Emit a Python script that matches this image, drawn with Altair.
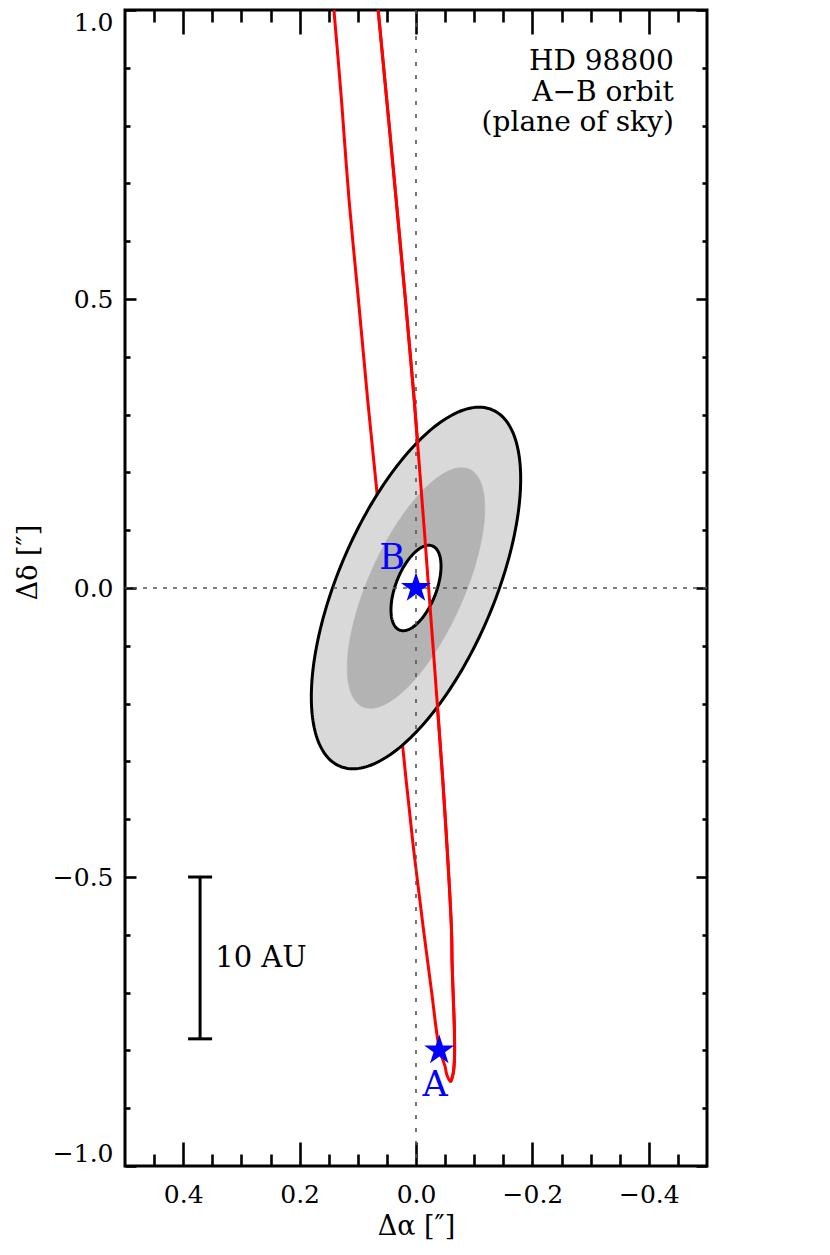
import altair as alt
import numpy as np
import pandas as pd

# ---------------- axis ticks ----------------
x_domain = [-0.5, 0.5]
y_domain = [-1.0, 1.0]
x_major = [0.4, 0.2, 0.0, -0.2, -0.4]
x_minor = [0.45, 0.35, 0.3, 0.25, 0.15, 0.1, 0.05, -0.05, -0.1, -0.15,
           -0.25, -0.3, -0.35, -0.45]
y_major = [1.0, 0.5, 0.0, -0.5, -1.0]
y_minor = [0.9, 0.8, 0.7, 0.6, 0.4, 0.3, 0.2, 0.1, -0.1, -0.2, -0.3, -0.4,
           -0.6, -0.7, -0.8, -0.9]

# ---------------- A-B orbit ----------------
orbit_dra = [0.141, 0.128, 0.115, 0.099, 0.083, 0.050, 0.017, 0.002, -0.013,
             -0.027, -0.040, -0.050, -0.053, -0.0596, -0.064, -0.066, -0.066,
             -0.064, -0.062, -0.061, -0.046, -0.022, 0.003, 0.034, 0.065]
orbit_ddec = [1.000, 0.844, 0.671, 0.500, 0.325, -0.004, -0.332, -0.470,
              -0.592, -0.700, -0.796, -0.828, -0.842, -0.854, -0.839, -0.817,
              -0.765, -0.707, -0.649, -0.592, -0.332, -0.004, 0.325, 0.671,
              1.000]
orbit_side = ["back"] * 13 + ["front"] * 12

# ---------------- confidence ellipses around B ----------------
ell_name = ["outer", "middle", "inner"]
ell_a = [0.335, 0.225, 0.078]      # semi-major axis ["]
ell_b = [0.134, 0.082, 0.035]      # semi-minor axis ["]
ell_tilt = [23.0, 24.0, 21.0]      # degrees from north toward west
ell_fill = ["#d9d9d9", "#b3b3b3", "#ffffff"]
ell_border = [3.0, 0.0, 3.0]

# ---------------- stars and labels ----------------
star_name = ["B", "A"]
star_dra = [0.0, -0.040]
star_ddec = [0.0, -0.800]
label_dra = [0.041, -0.033]
label_ddec = [0.052, -0.860]

# ---------------- scale bar ----------------
bar_dra = [0.371]
bar_top = [-0.50]
bar_bottom = [-0.78]
bar_text = ["10 AU"]
bar_text_dra = [0.345]
bar_text_ddec = [-0.64]

# ---------------- title block ----------------
title_lines = ["HD 98800", "A\u2212B orbit", "(plane of sky)"]
title_dra = [-0.443, -0.443, -0.443]
title_ddec = [0.896, 0.843, 0.790]

FONT = "DejaVu Serif"
STAR = ("M0,-1L0.2245,-0.309L0.9511,-0.309L0.3633,0.118L0.5878,0.809L0,0.382"
        "L-0.5878,0.809L-0.3633,0.118L-0.9511,-0.309L-0.2245,-0.309Z")
xs = alt.Scale(domain=x_domain, reverse=True, nice=False, zero=False)
ys = alt.Scale(domain=y_domain, nice=False, zero=False)


def X(field="x"):
    return alt.X(f"{field}:Q", scale=xs, axis=None)


def Y(field="y"):
    return alt.Y(f"{field}:Q", scale=ys, axis=None)


# data frames
orbit_df = pd.DataFrame({"x": orbit_dra, "y": orbit_ddec, "side": orbit_side,
                         "i": list(range(len(orbit_dra)))})

t = np.linspace(0.0, 2.0 * np.pi, 241)
ell_frames = []
for k, name in enumerate(ell_name):
    th = np.radians(ell_tilt[k])
    ex = star_dra[0] + ell_a[k] * np.cos(t) * (-np.sin(th)) + ell_b[k] * np.sin(t) * np.cos(th)
    ey = star_ddec[0] + ell_a[k] * np.cos(t) * np.cos(th) + ell_b[k] * np.sin(t) * np.sin(th)
    ell_frames.append(pd.DataFrame({"x": ex, "y": ey, "i": np.arange(len(t)), "name": name}))

stars_df = pd.DataFrame({"x": star_dra, "y": star_ddec, "name": star_name})
labels_df = pd.DataFrame({"x": label_dra, "y": label_ddec, "name": star_name})
bar_df = pd.DataFrame({"x": bar_dra, "y": bar_top, "y2": bar_bottom})
bar_caps_df = pd.DataFrame({"x": bar_dra * 2, "y": bar_top + bar_bottom})
bar_text_df = pd.DataFrame({"x": bar_text_dra, "y": bar_text_ddec, "t": bar_text})
title_df = pd.DataFrame({"x": title_dra, "y": title_ddec, "t": title_lines})
zero_df = pd.DataFrame({"x": [0.0], "y": [0.0]})

layers = []

# orbit drawn first (left branch goes behind the ellipses)
layers.append(
    alt.Chart(orbit_df).mark_line(color="#ff0000", strokeWidth=3,
                                  interpolate="catmull-rom", clip=True)
    .encode(x=X(), y=Y(), order="i:Q")
)

for k, fr in enumerate(ell_frames):
    props = dict(fill=ell_fill[k], interpolate="linear")
    if ell_border[k] > 0:
        props.update(stroke="black", strokeWidth=ell_border[k])
    else:
        props.update(stroke=ell_fill[k], strokeWidth=0.5)
    layers.append(alt.Chart(fr).mark_line(**props).encode(x=X(), y=Y(), order="i:Q"))

# dotted zero lines
layers.append(
    alt.Chart(zero_df).mark_rule(color="#555555", strokeWidth=1.6, strokeDash=[4, 9])
    .encode(x=X())
)
layers.append(
    alt.Chart(zero_df).mark_rule(color="#555555", strokeWidth=1.6, strokeDash=[4, 6])
    .encode(y=Y())
)

# front part of the orbit (over the ellipses)
layers.append(
    alt.Chart(orbit_df).transform_filter(alt.datum.side == "front")
    .mark_line(color="#ff0000", strokeWidth=3, interpolate="catmull-rom", clip=True)
    .encode(x=X(), y=Y(), order="i:Q")
)

# stars
layers.append(
    alt.Chart(stars_df).mark_point(shape=STAR, filled=True, color="#0000ff",
                                   size=1000, opacity=1, strokeWidth=0)
    .encode(x=X(), y=Y())
)
layers.append(
    alt.Chart(labels_df).mark_text(color="#0000ff", fontSize=35, font=FONT,
                                   baseline="middle", align="center")
    .encode(x=X(), y=Y(), text="name:N")
)

# scale bar
layers.append(
    alt.Chart(bar_df).mark_rule(color="black", strokeWidth=3)
    .encode(x=X(), y=Y(), y2="y2:Q")
)
layers.append(
    alt.Chart(bar_caps_df).mark_tick(orient="horizontal", size=24, thickness=3,
                                     color="black", opacity=1)
    .encode(x=X(), y=Y())
)
layers.append(
    alt.Chart(bar_text_df).mark_text(fontSize=29, font=FONT, align="left",
                                     baseline="middle", color="black")
    .encode(x=X(), y=Y(), text="t:N")
)

# title block
layers.append(
    alt.Chart(title_df).mark_text(fontSize=28, font=FONT, align="right",
                                  baseline="alphabetic", color="black")
    .encode(x=X(), y=Y(), text="t:N")
)

# ---------------- axes (inward ticks) ----------------
common = dict(domain=False, grid=False, tickColor="black", tickWidth=2.6,
              labelFont=FONT, labelColor="black", labelFontSize=25,
              titleFont=FONT, titleColor="black", titleFontSize=27,
              titleFontWeight="normal")


def axis_layer(xaxis, yaxis):
    return alt.Chart(zero_df).mark_point(opacity=0).encode(
        x=alt.X("x:Q", scale=xs, axis=xaxis),
        y=alt.Y("y:Q", scale=ys, axis=yaxis),
    )


layers.append(axis_layer(
    alt.Axis(orient="bottom", values=x_major, format=".1f", tickSize=24,
             offset=-24, labelPadding=16, title="\u0394\u03b1 [\u2033]",
             titlePadding=6, **common),
    alt.Axis(orient="left", values=y_major, format=".1f", tickSize=11,
             offset=-11, labelPadding=12, labelFlush=True,
             title="\u0394\u03b4 [\u2033]", titlePadding=10, titleY=552,
             **common),
))
layers.append(axis_layer(
    alt.Axis(orient="bottom", values=x_minor, tickSize=12, offset=-12,
             labels=False, title=None, **common),
    alt.Axis(orient="left", values=y_minor, tickSize=5, offset=-5,
             labels=False, title=None, **common),
))
layers.append(axis_layer(
    alt.Axis(orient="top", values=x_major, tickSize=24, offset=-24,
             labels=False, title=None, **common),
    alt.Axis(orient="right", values=y_major, tickSize=11, offset=-11,
             labels=False, title=None, **common),
))
layers.append(axis_layer(
    alt.Axis(orient="top", values=x_minor, tickSize=12, offset=-12,
             labels=False, title=None, **common),
    alt.Axis(orient="right", values=y_minor, tickSize=5, offset=-5,
             labels=False, title=None, **common),
))

chart = (
    alt.layer(*layers)
    .resolve_axis(x="independent", y="independent")
    .properties(width=582, height=1156,
                autosize=alt.AutoSizeParams(type="none"),
                padding={"left": 117, "top": 2, "right": 110, "bottom": 81})
    .configure(font=FONT)
    .configure_view(stroke="black", strokeWidth=3)
)

chart.save("out.html", embed_options={"renderer": "svg", "actions": False})
